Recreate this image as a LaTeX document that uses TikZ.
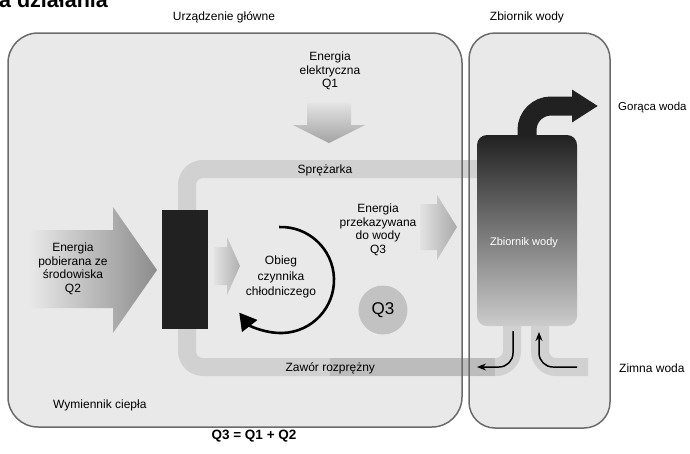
\documentclass[tikz,border=0pt]{standalone}
\usepackage{fontspec}
\setmainfont{Liberation Sans}
\usetikzlibrary{arrows.meta}
\definecolor{boxfill}{gray}{0.915}
\definecolor{boxline}{gray}{0.42}
\definecolor{pipegray}{gray}{0.82}
\definecolor{pipedark}{gray}{0.76}
\definecolor{coalblack}{gray}{0.13}
\definecolor{fadegray}{gray}{0.89}
\definecolor{flowgray}{gray}{0.55}
\definecolor{tankbottom}{gray}{0.8}

\begin{document}
\begin{tikzpicture}[x=1pt,y=-1pt,
  lbl/.style={font=\fontsize{12}{13.5}\selectfont, align=center, inner sep=0pt},
  pipe/.style={draw=pipegray, line width=18pt},
  flow/.style={line width=1.5pt, rounded corners=14pt, -{Stealth[length=9pt,width=7pt]}}]
  \useasboundingbox (0,0) rectangle (690,453);

  \coordinate (U1) at (8,33);
  \coordinate (U2) at (462,427);
  \coordinate (T1) at (469,33);
  \coordinate (T2) at (610,428);

  % both housings, outlines come later over the pipes
  \fill[boxfill, rounded corners=30pt] (U1) rectangle (U2);
  \fill[boxfill, rounded corners=26pt] (T1) rectangle (T2);

  % refrigerant loop and water pipes
  \draw[pipe, rounded corners=16pt] (480,169) -- (187,169) -- (187,367) -- (512,367) -- (512,320);
  \draw[pipegray!90!black, line width=18pt] (330,367) -- (495,367);
  \draw[pipe, rounded corners=16pt] (540,320) -- (540,367) -- (588,367);

  \draw[boxline, line width=1.5pt, rounded corners=30pt] (U1) rectangle (U2);
  \draw[boxline, line width=1.5pt, rounded corners=26pt] (T1) rectangle (T2);

  % energy arrows
  \shade[top color=fadegray, bottom color=flowgray!80]
    (307,103) -- (351,103) -- (351,125) -- (365,125) -- (329,143) -- (293,125) -- (307,125) -- cycle;
  \shade[left color=boxfill, right color=flowgray]
    (28,230) -- (113,230) -- (113,207) -- (157,270) -- (113,333) -- (113,308) -- (28,308) -- cycle;
  \shade[left color=fadegray, right color=flowgray!70]
    (214,247) -- (227,247) -- (227,237) -- (240,266) -- (227,295) -- (227,285) -- (214,285) -- cycle;
  \shade[left color=fadegray, right color=flowgray!75]
    (420,204) -- (437,204) -- (437,195) -- (457,227) -- (437,260) -- (437,250) -- (420,250) -- cycle;

  % heat exchanger and water tank
  \node (exchanger) [fill=coalblack, inner sep=0pt, minimum width=46pt, minimum height=119pt] at (185,269.5) {};
  \draw[coalblack, line width=19pt, rounded corners=24pt, -{Triangle[length=26pt,width=31pt]}]
    (527,140) -- (527,106) -- (598,106);
  \node (tank) [rounded corners=10pt, top color=coalblack, bottom color=tankbottom, inner sep=0pt,
    minimum width=100pt, minimum height=191pt] at (527,230.5) {};
  \node (q3) [circle, fill=pipedark, minimum size=49pt, inner sep=0pt, font=\fontsize{17}{17}\selectfont] at (383,310) {Q3};

  % refrigerant cycle
  \coordinate (C) at (281,280);
  \draw[line width=2.6pt, -{Triangle[length=17pt,width=19pt]}]
    (C) ++(-92:53) arc[start angle=-92, end angle=142, radius=53];

  % water in / out
  \draw[flow] (513,331) -- (513,367) -- (477,367);
  \draw[flow] (577,367) -- (539,367) -- (539,332);

  % texts
  \node (title) [anchor=base west, inner sep=0pt, font=\fontsize{21.5}{21.5}\selectfont\bfseries] at (-1,7) {a działania};
  \foreach \name/\x/\y/\txt in {
    unitlbl/224/17/{Urządzenie główne},
    tanklbl/527/17/{Zbiornik wody},
    compressor/325/170/{Sprężarka},
    valve/332/368/{Zawór rozprężny}
  }
  {
    \node (\name) [lbl] at (\x,\y) {\txt};
  }
  \node (hot) [lbl, anchor=west, font=\fontsize{11.5}{13}\selectfont] at (618,108) {Gorąca woda};
  \node (cold) [lbl, anchor=west] at (619,368) {Zimna woda};
  \node (hx) [lbl, anchor=west] at (53,405) {Wymiennik ciepła};
  \node (tanktxt) [lbl, text=white, font=\fontsize{11}{13}\selectfont] at (524,243) {Zbiornik wody};

  \node (q1txt) [lbl] at (330,71) {Energia\\elektryczna\\Q1};
  \node (q2txt) [lbl] at (73,269) {Energia\\pobierana ze\\środowiska\\Q2};
  \node (cycle) [lbl, font=\fontsize{12}{15.5}\selectfont] at (281,277) {Obieg\\czynnika\\chłodniczego};
  \node (q3txt) [lbl] at (378,230) {Energia\\przekazywana\\do wody\\Q3};

  \node (sum) [lbl, font=\fontsize{13.5}{14}\selectfont\bfseries] at (254,436) {Q3 = Q1 + Q2};
\end{tikzpicture}
\end{document}
